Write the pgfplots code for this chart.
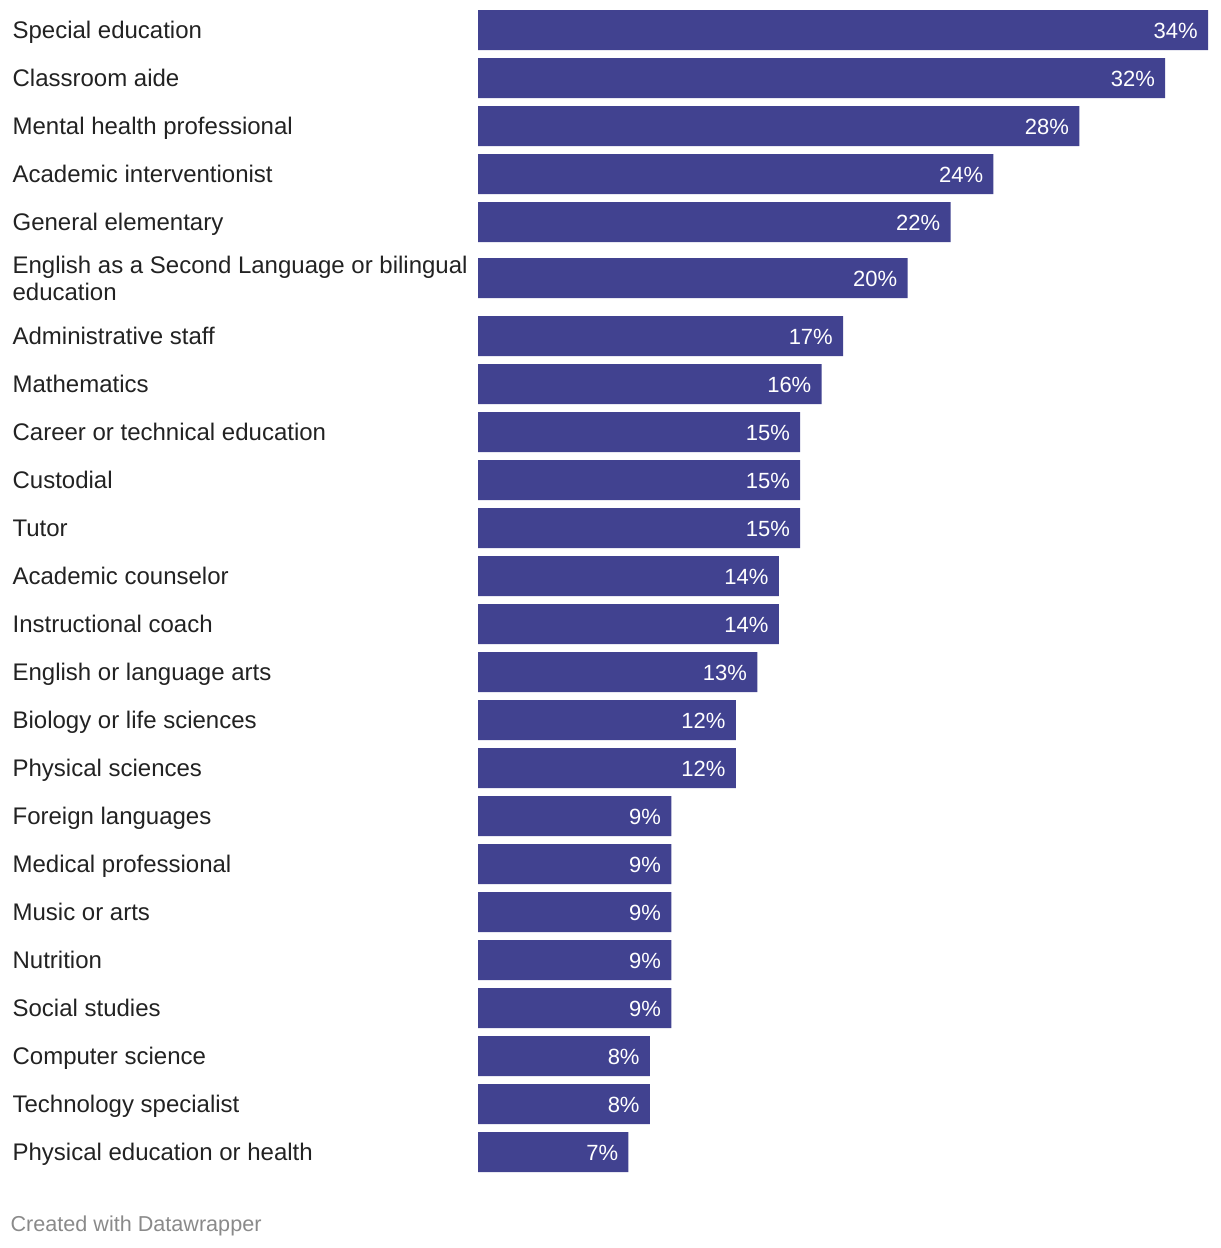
\documentclass[border=0pt]{standalone}
\usepackage{fontspec}
\setmainfont{Liberation Sans}
\usepackage{pgfplots}
\pgfplotsset{compat=1.18}
\definecolor{barcol}{HTML}{414290}
\definecolor{lblcol}{HTML}{222222}
\definecolor{footcol}{HTML}{8A8A8A}
% 1 px of the reference = 0.5pt; 1 percent = 21.47 px
\pgfplotstableread{
y     v
30    34
78    32
126   28
174   24
222   22
278   20
336   17
384   16
432   15
480   15
528   15
576   14
624   14
672   13
720   12
768   12
816   9
864   9
912   9
960   9
1008  9
1056  8
1104  8
1152  7
}\shares
\begin{document}
\begin{tikzpicture}
\begin{axis}[
  x=10.735pt, y=0.5pt, y dir=reverse, scale only axis,
  xmin=-22.263, xmax=34.56, ymin=0, ymax=1248,
  axis line style={draw=none}, major tick length=0pt,
  xtick=\empty,
  % the two-line label sits a little lower than its bar centre (278)
  ytick={30,78,126,174,222,281,336,384,432,480,528,576,624,672,720,768,816,864,912,960,1008,1056,1104,1152},
  yticklabels={Special education, Classroom aide, Mental health professional,
    Academic interventionist, General elementary,
    {English as a Second Language or bilingual\\education},
    Administrative staff, Mathematics, Career or technical education, Custodial,
    Tutor, Academic counselor, Instructional coach, English or language arts,
    Biology or life sciences, Physical sciences, Foreign languages,
    Medical professional, Music or arts, Nutrition, Social studies,
    Computer science, Technology specialist, Physical education or health},
  yticklabel style={anchor=west, align=left, inner sep=0pt, xshift=6pt,
    text=lblcol, font=\fontsize{12pt}{13.5pt}\selectfont,
    execute at begin node={\rule{0pt}{11.2pt}},
    execute at end node={\rule[-2.6pt]{0pt}{2.6pt}}},
  xbar, bar width=20pt,
  point meta=x,
  /pgf/number format/assume math mode=true,
  nodes near coords={\pgfmathprintnumber{\pgfplotspointmeta}\%},
  every node near coord/.append style={anchor=east, xshift=-5pt, inner sep=0pt,
    yshift=-0.5pt, text=white, font=\fontsize{11pt}{13pt}\selectfont},
  clip=false]
\addplot[draw=none, fill=barcol] table[x=v, y=y] {\shares};
\node[anchor=west, inner sep=0pt, xshift=5pt, text=footcol,
  font=\fontsize{10.8pt}{13pt}\selectfont] at (axis cs:-22.263,1226) {Created with Datawrapper};
\path (axis cs:-22.263,0) rectangle (axis cs:34.56,1248);
\end{axis}
\end{tikzpicture}
\end{document}
